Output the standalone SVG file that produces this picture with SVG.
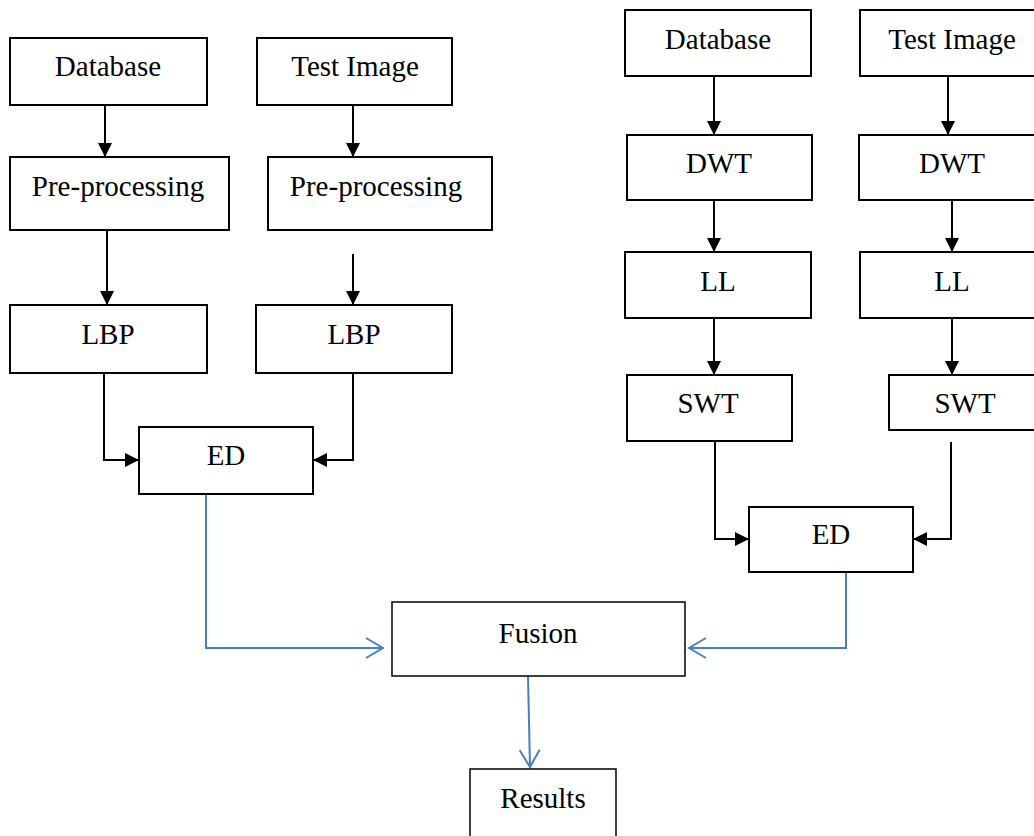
<svg xmlns="http://www.w3.org/2000/svg" width="1034" height="836" viewBox="0 0 1034 836">
<defs>
<style>
.box{fill:#fff;stroke:#000;stroke-width:2}
.lbl{font-family:"Liberation Serif","Times New Roman",serif;font-size:29px;fill:#000;text-anchor:middle}
.k{fill:none;stroke:#000;stroke-width:2}
.b{fill:none;stroke:#4a7ebb;stroke-width:2}
</style>
<marker id="ah" viewBox="0 0 14 14" refX="14" refY="7" markerWidth="14" markerHeight="14" markerUnits="userSpaceOnUse" orient="auto">
<path d="M0,0 L14,7 L0,14 Z" fill="#000"/>
</marker>
<marker id="oh" viewBox="0 0 20 22" refX="18" refY="11" markerWidth="20" markerHeight="22" markerUnits="userSpaceOnUse" orient="auto">
<path d="M1,1 L18,11 L1,21" fill="none" stroke="#4a7ebb" stroke-width="2"/>
</marker>
</defs>
<rect width="1034" height="836" fill="#fff"/>
<g id="connectors">
<line class="k" x1="105" y1="105" x2="105" y2="157" marker-end="url(#ah)"/>
<line class="k" x1="353" y1="105" x2="353" y2="157" marker-end="url(#ah)"/>
<line class="k" x1="107" y1="230" x2="107" y2="305" marker-end="url(#ah)"/>
<line class="k" x1="353" y1="254" x2="353" y2="305" marker-end="url(#ah)"/>
<polyline class="k" points="104,373 104,460 139,460" marker-end="url(#ah)"/>
<polyline class="k" points="353,373 353,460 313,460" marker-end="url(#ah)"/>
<line class="k" x1="714" y1="76" x2="714" y2="135" marker-end="url(#ah)"/>
<line class="k" x1="948" y1="76" x2="948" y2="135" marker-end="url(#ah)"/>
<line class="k" x1="714" y1="200" x2="714" y2="252" marker-end="url(#ah)"/>
<line class="k" x1="952" y1="200" x2="952" y2="252" marker-end="url(#ah)"/>
<line class="k" x1="714" y1="318" x2="714" y2="375" marker-end="url(#ah)"/>
<line class="k" x1="952" y1="318" x2="952" y2="375" marker-end="url(#ah)"/>
<polyline class="k" points="715,441 715,539 749,539" marker-end="url(#ah)"/>
<polyline class="k" points="951,442 951,539 913,539" marker-end="url(#ah)"/>
<polyline class="b" points="206,494 206,648 383,648" marker-end="url(#oh)"/>
<polyline class="b" points="846,572 846,648 689,648" marker-end="url(#oh)"/>
<line class="b" x1="528" y1="676" x2="530" y2="767" marker-end="url(#oh)"/>
</g>
<g id="db1"><rect class="box" x="10" y="38" width="197" height="67"/><text class="lbl" x="108" y="76">Database</text></g>
<g id="ti1"><rect class="box" x="257" y="38" width="195" height="67"/><text class="lbl" x="355" y="76">Test Image</text></g>
<g id="pp1"><rect class="box" x="10" y="157" width="219" height="73"/><text class="lbl" x="118" y="196">Pre-processing</text></g>
<g id="pp2"><rect class="box" x="268" y="157" width="224" height="73"/><text class="lbl" x="376" y="196">Pre-processing</text></g>
<g id="lbp1"><rect class="box" x="10" y="305" width="197" height="68"/><text class="lbl" x="108" y="344">LBP</text></g>
<g id="lbp2"><rect class="box" x="256" y="305" width="196" height="68"/><text class="lbl" x="354" y="344">LBP</text></g>
<g id="ed1"><rect class="box" x="139" y="427" width="174" height="67"/><text class="lbl" x="226" y="465">ED</text></g>
<g id="db2"><rect class="box" x="625" y="10" width="186" height="66"/><text class="lbl" x="718" y="49">Database</text></g>
<g id="ti2"><rect class="box" x="860" y="10" width="190" height="66"/><text class="lbl" x="952" y="49">Test Image</text></g>
<g id="dwt1"><rect class="box" x="627" y="135" width="185" height="65"/><text class="lbl" x="719" y="173">DWT</text></g>
<g id="dwt2"><rect class="box" x="859" y="135" width="190" height="65"/><text class="lbl" x="952" y="173">DWT</text></g>
<g id="ll1"><rect class="box" x="625" y="252" width="186" height="66"/><text class="lbl" x="718" y="291">LL</text></g>
<g id="ll2"><rect class="box" x="860" y="252" width="190" height="66"/><text class="lbl" x="952" y="291">LL</text></g>
<g id="swt1"><rect class="box" x="627" y="375" width="165" height="66"/><text class="lbl" x="708" y="413">SWT</text></g>
<g id="swt2"><rect class="box" x="889" y="375" width="160" height="55"/><text class="lbl" x="965" y="413">SWT</text></g>
<g id="ed2"><rect class="box" x="749" y="507" width="164" height="65"/><text class="lbl" x="831" y="544">ED</text></g>
<g id="fusion"><rect x="392" y="602" width="293" height="74" fill="#fff" stroke="#000" stroke-width="1.5"/><text class="lbl" x="538" y="643">Fusion</text></g>
<g id="results"><rect x="470" y="769" width="146" height="80" fill="#fff" stroke="#000" stroke-width="1.5"/><text class="lbl" x="543" y="808">Results</text></g>
</svg>
